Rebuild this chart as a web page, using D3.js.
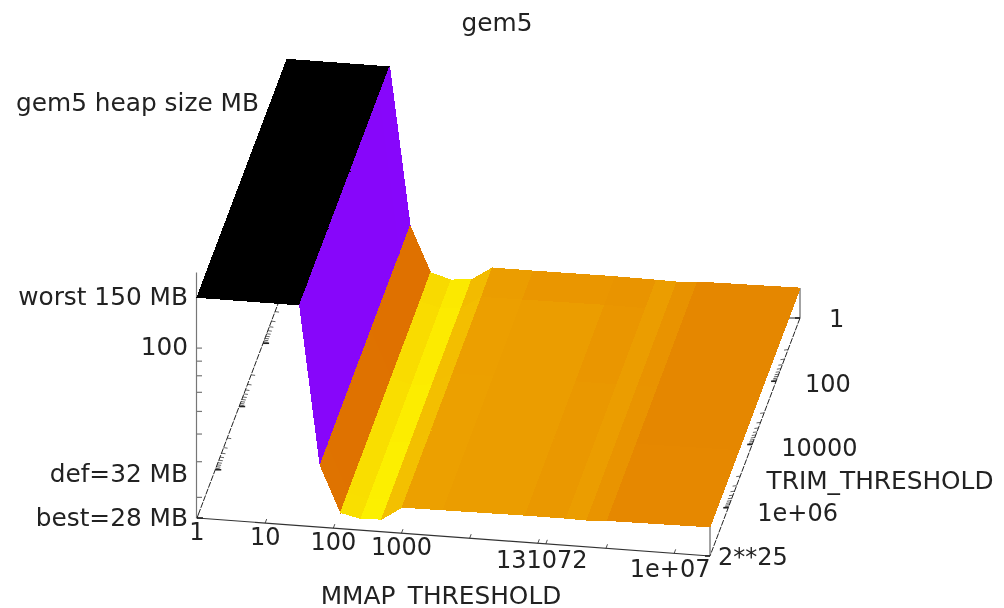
<!DOCTYPE html>
<html>
<head>
<meta charset="utf-8">
<script src="https://cdn.jsdelivr.net/npm/d3@7"></script>
<style>
  html, body { margin: 0; padding: 0; background: #fff; overflow: hidden; }
  text { font-family: "DejaVu Sans", sans-serif; fill: #222; }
  svg { filter: blur(0.45px); }
</style>
</head>
<body>
<div id="chart"></div>
<script>
// MMAP_THRESHOLD grid (powers of two), left to right
const mmapValues = [1, 32, 64, 128, 256, 512, 1024, 4096, 65536, 262144, 524288, 1048576, 33554432];
// TRIM_THRESHOLD grid, back to front
const trimValues = [1, 8, 2048, 131072, 8388608, 33554432];
// heap size MB, one row per trim value
const heapRow1 = [150, 150, 42.1, 29.2, 27.9, 28.3, 31.5, 31.5, 31.6, 31.5, 31.4, 31.8, 32.2];
const heapRow2 = [150, 150, 42.0, 29.1, 27.9, 28.2, 31.3, 31.4, 31.6, 31.5, 31.4, 31.8, 32.1];
const heapRow3 = [150, 150, 42.0, 29.0, 27.8, 28.2, 31.2, 31.3, 31.5, 31.5, 31.4, 31.7, 32.1];
const heapRow4 = [150, 150, 41.9, 28.9, 27.8, 28.1, 31.2, 31.3, 31.5, 31.5, 31.4, 31.7, 32.0];
const heapRow5 = [150, 150, 41.8, 28.9, 27.8, 28.0, 31.2, 31.3, 31.5, 31.5, 31.4, 31.7, 32.0];
const heapRow6 = [150, 150, 41.7, 28.8, 27.8, 28.0, 31.2, 31.3, 31.5, 31.5, 31.4, 31.7, 32.0];
const heapRows = [heapRow1, heapRow2, heapRow3, heapRow4, heapRow5, heapRow6];

const mmapTicks = [1, 10, 100, 1000, 10000, 100000, 131072, 1000000, 10000000];
const mmapLabels = ["1", "10", "100", "1000", "", "", "131072", "", "1e+07"];
const trimTicks = [1, 100, 10000, 1000000, 33554432];
const trimLabels = ["1", "100", "10000", "1e+06", "2**25"];
const trimMinorTicks = [10, 20, 30, 40, 50, 60, 70, 80, 90,
  1000, 2000, 3000, 4000, 5000, 6000, 7000, 8000, 9000,
  100000, 200000, 300000, 400000, 500000, 600000, 700000, 800000, 900000];
const heapMinorTicks = [30, 40, 50, 60, 70, 80, 90, 100];
const heapLabelValues = [150, 100, 36, 25.3];
const heapLabels = ["worst 150 MB", "100", "def=32 MB", "best=28 MB"];

const width = 1004;
const height = 608;

// gnuplot's default pm3d palette
const palette = (g) => {
  const r = Math.sqrt(g);
  const gr = g * g * g;
  const b = Math.max(0, Math.sin(2 * Math.PI * g));
  return d3.rgb(r * 255, gr * 255, b * 255).formatHex();
};
const grayScale = d3.scaleLog()
  .domain([150, 96, 35.4, 31.85, 31.55, 31.45, 29.6, 28.3, 27.9])
  .range([0, 0.28, 0.765, 0.81, 0.835, 0.85, 0.91, 0.957, 0.98])
  .clamp(true);

// oblique projection: the three axes are just three scales added together
const uScale = d3.scaleLog().domain([1, 33554432]).range([0, 1]);
const vScale = d3.scaleLog().domain([1, 33554432]).range([0, 1]);
const zScale = d3.scaleLog().domain([25.3, 184]).range([518, 272]);

const project = (mmap, trim, heap) => {
  const u = uScale(mmap);
  const v = vScale(trim);
  const lift = heap === undefined ? 0 : 518 - zScale(heap);
  return [287 + 513 * u - 90 * v, 280 + 38 * u + 238 * v - lift];
};

const svg = d3.select("#chart").append("svg")
  .attr("width", width)
  .attr("height", height)
  .style("display", "block");

const axisColor = "#222";
const addLine = (p0, p1, color, w, dash) => svg.append("line")
  .attr("x1", p0[0]).attr("y1", p0[1])
  .attr("x2", p1[0]).attr("y2", p1[1])
  .attr("stroke", color)
  .attr("stroke-width", w)
  .attr("stroke-dasharray", dash || null);

// Base axes go first, the surface hides part of them
addLine(project(1, 33554432), project(33554432, 33554432), "#333", 1.2);
addLine(project(1, 1), project(1, 33554432), axisColor, 1, "6,1.2");
addLine(project(33554432, 1), project(33554432, 33554432), axisColor, 1, "6,1.2");

// z axis on the left
const zAxisGroup = svg.append("g")
  .attr("transform", "translate(196,0)")
  .call(d3.axisRight(zScale)
    .tickValues(heapMinorTicks)
    .tickSize(6)
    .tickSizeOuter(0)
    .tickFormat(""));
zAxisGroup.selectAll("path, line").attr("stroke", "#777").attr("stroke-width", 1.2);

// verticals at the right-hand corners
addLine(project(33554432, 1), project(33554432, 1, 32.2), "#666", 1.2);
addLine(project(33554432, 33554432), project(33554432, 33554432, 32), "#666", 1.2);
addLine(project(33554432, 1), [789, 318], axisColor, 1);

// mmap ticks
mmapTicks.forEach((d) => {
  const p = project(d, 33554432);
  addLine(p, [p[0] + 1.5, p[1] - 4], axisColor, 0.8);
});

// trim ticks on both sides
trimTicks.forEach((d) => {
  const a = project(1, d);
  const b = project(33554432, d);
  addLine(a, [a[0] + 6, a[1]], axisColor, 1.6);
  addLine(b, [b[0] - 5, b[1]], axisColor, 1.6);
});
trimMinorTicks.forEach((d) => {
  const a = project(1, d);
  const b = project(33554432, d);
  addLine(a, [a[0] + 4, a[1] + 0.5], axisColor, 0.7);
  addLine(b, [b[0] - 4, b[1] + 0.5], axisColor, 0.7);
});

// Surface: back rows first
const polygon = d3.line();
const facets = [];
for (let r = 0; r < trimValues.length - 1; r++) {
  for (let c = 0; c < mmapValues.length - 1; c++) {
    const corners = [
      [mmapValues[c], trimValues[r], heapRows[r][c]],
      [mmapValues[c + 1], trimValues[r], heapRows[r][c + 1]],
      [mmapValues[c + 1], trimValues[r + 1], heapRows[r + 1][c + 1]],
      [mmapValues[c], trimValues[r + 1], heapRows[r + 1][c]],
    ];
    facets.push({
      points: corners.map((d) => project(d[0], d[1], d[2])),
      color: palette(grayScale(d3.mean(corners, (d) => d[2]))),
    });
  }
}

svg.append("g")
  .attr("shape-rendering", "crispEdges")
  .selectAll("path")
  .data(facets)
  .enter()
  .append("path")
  .attr("d", (d) => polygon(d.points) + "Z")
  .attr("fill", (d) => d.color)
  .attr("stroke", (d) => d.color)
  .attr("stroke-width", 1);

// Labels
const numberSize = 24;
const wordSize = 24.8;
const addText = (x, y, str, anchor, size) => svg.append("text")
  .attr("x", x)
  .attr("y", y)
  .attr("text-anchor", anchor || "middle")
  .attr("font-size", size || wordSize)
  .text(str);

mmapTicks.forEach((d, i) => {
  if (!mmapLabels[i]) return;
  const p = project(d, 33554432);
  addText(p[0] - (d > 1000 ? 4 : 0), p[1] + 22 + (d > 1000 ? 2 : 0), mmapLabels[i], "middle", numberSize);
});

trimTicks.forEach((d, i) => {
  const p = project(33554432, d);
  const isLast = i === trimTicks.length - 1;
  addText(p[0] + (isLast ? 8 : 29), p[1] + (isLast ? 9 : 9 + i * 1.4), trimLabels[i], "start", numberSize);
});

heapLabelValues.forEach((d, i) => {
  addText(188, zScale(d) + 7.5, heapLabels[i], "end");
});

addText(497, 31, "gem5");
addText(16, 111, "gem5 heap size MB", "start");
addText(441, 603.5, "MMAP_THRESHOLD");
addText(880, 489, "TRIM_THRESHOLD");
</script>
</body>
</html>
